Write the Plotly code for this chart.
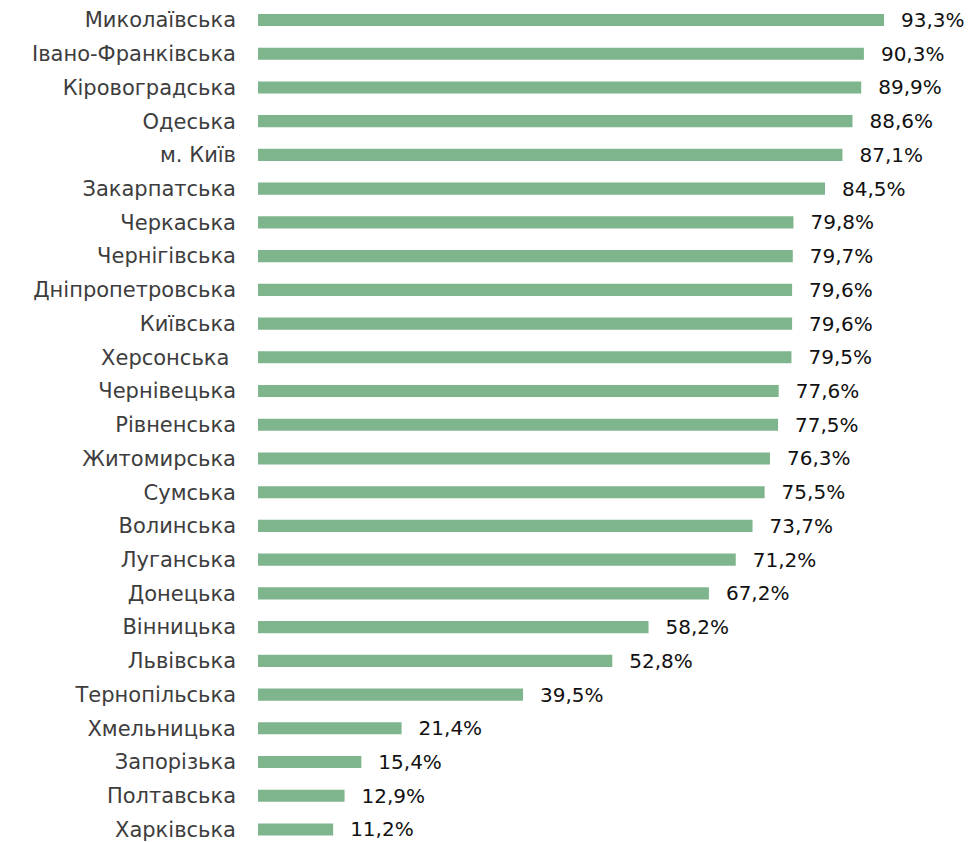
import plotly.graph_objects as go

regions = ["Миколаївська", "Івано-Франківська", "Кіровоградська", "Одеська", "м. Київ",
           "Закарпатська", "Черкаська", "Чернігівська", "Дніпропетровська", "Київська",
           "Херсонська\u00a0", "Чернівецька", "Рівненська", "Житомирська", "Сумська",
           "Волинська", "Луганська", "Донецька", "Вінницька", "Львівська",
           "Тернопільська", "Хмельницька", "Запорізька", "Полтавська", "Харківська"]
values = [93.3, 90.3, 89.9, 88.6, 87.1, 84.5, 79.8, 79.7, 79.6, 79.6,
          79.5, 77.6, 77.5, 76.3, 75.5, 73.7, 71.2, 67.2, 58.2, 52.8,
          39.5, 21.4, 15.4, 12.9, 11.2]

labels = ["\u2002\u2009" + f"{v:.1f}".replace(".", ",") + "%" for v in values]

fig = go.Figure(go.Bar(
    x=values, y=list(range(len(regions))), orientation="h",
    marker=dict(color="#7FB58D", line=dict(width=0)),
    width=0.36,
    text=labels, textposition="outside", cliponaxis=False,
    constraintext="none",
    textfont=dict(family="DejaVu Sans", size=20, color="#111111"),
    hoverinfo="skip",
))

fig.update_layout(
    width=968, height=842,
    margin=dict(l=258, r=10, t=0, b=0),
    plot_bgcolor="white", paper_bgcolor="white",
    showlegend=False,
    xaxis=dict(range=[0, 700 / 6.71], visible=False, fixedrange=True),
    yaxis=dict(range=[24.371, -0.593], tickmode="array",
               tickvals=list(range(len(regions))), ticktext=regions,
               showgrid=False, zeroline=False, showline=False, ticks="",
               ticklabelstandoff=21, fixedrange=True,
               tickfont=dict(family="DejaVu Sans", size=21, color="#3d3d3d")),
)

fig.write_html("out.html", config={"displayModeBar": False},
               post_script="document.body.style.margin='0';document.body.style.padding='0';")
